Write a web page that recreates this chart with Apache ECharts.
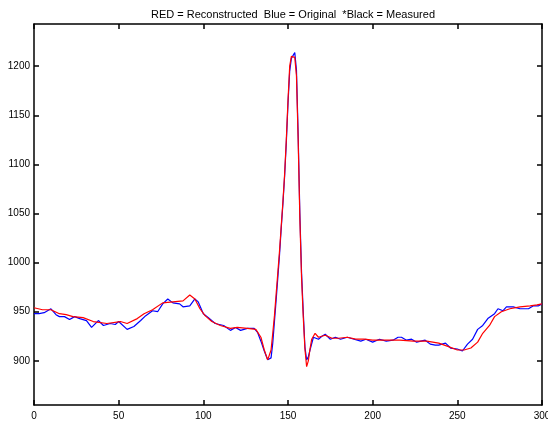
<!DOCTYPE html>
<html>
<head>
<meta charset="utf-8">
<title>Reconstructed vs Original</title>
<script src="https://cdn.jsdelivr.net/npm/echarts@6.0.0/dist/echarts.min.js"></script>
<style>
	html, body { margin: 0; padding: 0; background: #fff; }
	#chart { width: 548px; height: 424px; }
</style>
</head>
<body>
<div id="chart"></div>
<script>
'use strict';

var titleText = 'RED = Reconstructed  Blue = Original  *Black = Measured';

// x tick labels / y tick labels
var xTicks = [0, 50, 100, 150, 200, 250, 300];
var yTicks = [900, 950, 1000, 1050, 1100, 1150, 1200];

// Blue = Original
var blueX = [0, 3, 6, 10, 13, 15, 18, 21, 24, 27, 31, 34, 38, 41, 45, 48, 50, 55, 59, 63,
	66, 70, 73, 76, 79, 82, 86, 88, 92, 95, 97, 100, 103, 107, 112, 116, 119, 122, 126, 130,
	132, 134, 136, 138, 139, 140, 141, 142, 143, 144, 145, 146, 147, 148, 149, 150, 151, 152, 153, 154,
	155, 156, 157, 158, 159, 160, 161, 162, 163, 165, 166, 168, 170, 172, 175, 178, 181, 185, 189, 193,
	196, 200, 204, 208, 212, 215, 217, 220, 223, 226, 231, 234, 237, 239, 243, 246, 250, 253, 256, 259,
	262, 265, 268, 272, 274, 277, 279, 283, 287, 292, 295, 298, 300];
var blueY = [948, 948, 949, 953, 947, 945, 945, 942, 945, 943, 941, 934, 941, 936, 938, 937, 940, 932, 935, 941,
	946, 951, 950, 958, 963, 959, 958, 955, 956, 963, 960, 948, 944, 938, 936, 931, 934, 931, 933, 933,
	929, 920, 910, 901, 900, 903, 918, 940, 962, 985, 1008, 1035, 1060, 1088, 1122, 1162, 1195, 1208, 1209, 1214,
	1196, 1130, 1050, 990, 950, 914, 901, 904, 911, 924, 925, 922, 925, 927, 922, 924, 922, 924, 922, 920,
	922, 919, 922, 920, 921, 924, 924, 921, 922, 919, 921, 917, 916, 916, 918, 913, 912, 910, 917, 922,
	932, 936, 943, 948, 953, 951, 955, 955, 953, 953, 956, 956, 958];

// RED = Reconstructed
var redX = [0, 5, 10, 15, 19, 23, 29, 35, 43, 51, 55, 61, 65, 70, 76, 82, 88, 92, 95, 98,
	101, 105, 110, 116, 120, 126, 131, 134, 136, 138, 139, 140, 141, 142, 143, 144, 145, 146, 147, 148,
	149, 150, 151, 152, 153, 154, 155, 156, 157, 158, 159, 160, 161, 162, 163, 164, 166, 168, 172, 176,
	180, 185, 190, 195, 200, 205, 210, 216, 224, 232, 239, 244, 250, 254, 258, 262, 265, 269, 272, 276,
	281, 287, 293, 297, 300];
var redY = [954, 952, 952, 948, 947, 945, 944, 940, 938, 940, 938, 943, 948, 952, 959, 960, 961, 967, 963, 953,
	946, 940, 936, 933, 934, 933, 932, 924, 911, 901, 902, 911, 928, 946, 968, 990, 1012, 1037, 1062, 1090,
	1125, 1165, 1200, 1210, 1211, 1209, 1190, 1125, 1045, 985, 945, 912, 894, 900, 912, 922, 928, 924, 926, 923,
	923, 924, 922, 922, 921, 921, 921, 921, 920, 920, 918, 915, 911, 911, 913, 919, 928, 936, 945, 950,
	953, 955, 956, 957, 958];

function pairs(xs, ys) {
	return xs.map(function(x, i) {
		return [x, ys[i]];
	});
}

function plain(v) {
	return String(v);
}

var labelFont = {
	fontFamily: 'Liberation Sans, Arial, sans-serif',
	fontSize: 10,
	color: '#000'
};

var frame = { show: true, onZero: false, lineStyle: { color: '#000', width: 1.5 } };

function ticks(values) {
	return { show: true, inside: true, length: 5, customValues: values, lineStyle: { color: '#000', width: 1.5 } };
}

var chart = echarts.init(document.getElementById('chart'), null, { renderer: 'canvas' });

chart.setOption({
	animation: false,
	backgroundColor: '#fff',
	title: {
		text: titleText,
		left: 288,
		textAlign: 'center',
		top: 4,
		textStyle: {
			fontFamily: 'Liberation Sans, Arial, sans-serif',
			fontSize: 11,
			fontWeight: 'normal',
			color: '#000'
		}
	},
	// labels may run past the canvas edge ("300" is cut in the original)
	grid: { left: 34, right: 6, top: 24, bottom: 19, containLabel: false, outerBoundsMode: 'none' },
	xAxis: [{
		type: 'value',
		min: 0,
		max: 300,
		interval: 50,
		position: 'bottom',
		axisLine: frame,
		axisTick: ticks(xTicks),
		axisLabel: Object.assign({ margin: 6, formatter: plain, customValues: xTicks }, labelFont),
		splitLine: { show: false }
	}, {
		type: 'value',
		min: 0,
		max: 300,
		interval: 50,
		position: 'top',
		axisLine: frame,
		axisTick: ticks(xTicks),
		axisLabel: { show: false },
		splitLine: { show: false }
	}],
	yAxis: [{
		type: 'value',
		min: 855,
		max: 1243,
		position: 'left',
		axisLine: frame,
		axisTick: ticks(yTicks),
		axisLabel: Object.assign({ margin: 4, formatter: plain, customValues: yTicks }, labelFont),
		splitLine: { show: false }
	}, {
		type: 'value',
		min: 855,
		max: 1243,
		position: 'right',
		axisLine: frame,
		axisTick: ticks(yTicks),
		axisLabel: { show: false },
		splitLine: { show: false }
	}],
	series: [{
		name: 'Original',
		type: 'line',
		xAxisIndex: 0,
		yAxisIndex: 0,
		data: pairs(blueX, blueY),
		showSymbol: false,
		lineStyle: { color: '#0000ff', width: 1.2 },
		z: 2
	}, {
		name: 'Reconstructed',
		type: 'line',
		xAxisIndex: 0,
		yAxisIndex: 0,
		data: pairs(redX, redY),
		showSymbol: false,
		lineStyle: { color: '#ff0000', width: 1.2 },
		z: 3
	}]
});
</script>
</body>
</html>
